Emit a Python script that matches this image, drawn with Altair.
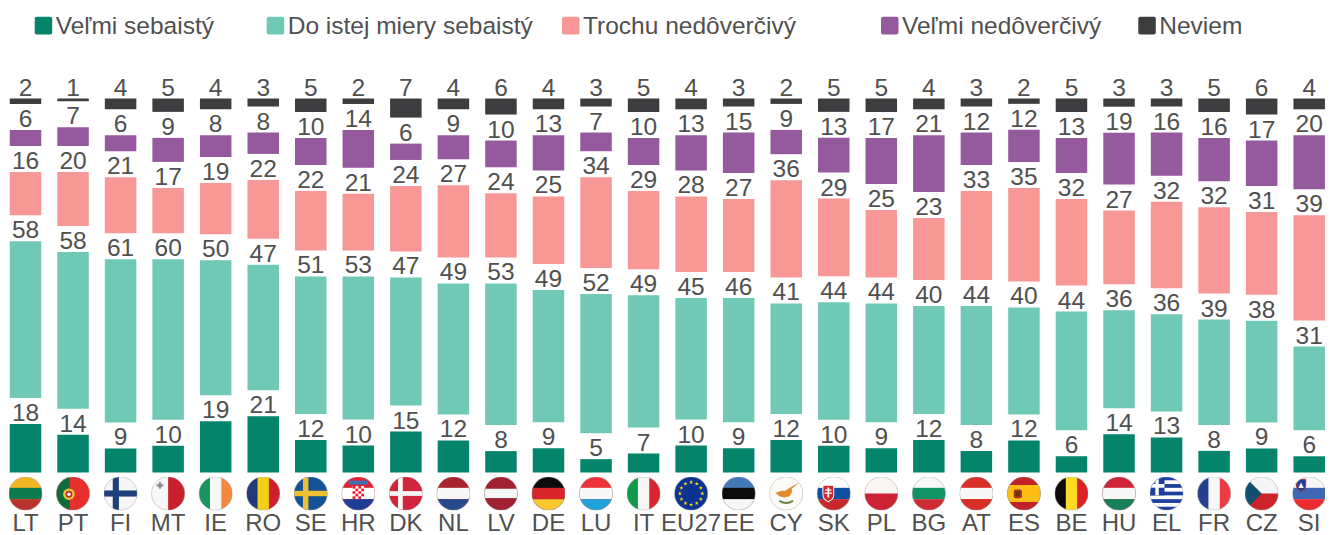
import base64, math
import altair as alt
import pandas as pd

countries = ["LT","PT","FI","MT","IE","RO","SE","HR","DK","NL","LV","DE","LU","IT","EU27","EE","CY","SK","PL","BG","AT","ES","BE","HU","EL","FR","CZ","SI"]
very_confident = [18,14,9,10,19,21,12,10,15,12,8,9,5,7,10,9,12,10,9,12,8,12,6,14,13,8,9,6]
fairly_confident = [58,58,61,60,50,47,51,53,47,49,53,49,52,49,45,46,41,44,44,40,44,40,44,36,36,39,38,31]
slightly_distrust = [16,20,21,17,19,22,22,21,24,27,24,25,34,29,28,27,36,29,25,23,33,35,32,27,32,32,31,39]
very_distrust = [6,7,6,9,8,8,10,14,6,9,10,13,7,10,13,15,9,13,17,21,12,12,13,19,16,16,17,20]
dont_know = [2,1,4,5,4,3,5,2,7,4,6,4,3,5,4,3,2,5,5,4,3,2,5,3,3,5,6,4]

series_names = ["Veľmi sebaistý","Do istej miery sebaistý","Trochu nedôverčivý","Veľmi nedôverčivý","Neviem"]
series_values = [very_confident, fairly_confident, slightly_distrust, very_distrust, dont_know]
series_colors = ["#04846b","#6fc9b6","#f79896","#955a9d","#3d3d3f"]
legend_square_x = [34.7, 266.7, 562, 881, 1138.3]
TEXT = "#505050"
FONT = "Liberation Sans"


def pos(p):
    """Page pixel to chart pixel: the page has an 8px margin."""
    return p - 8


# the gap that holds each value label, in percentage units of the y scale
PX_PER_UNIT = 2.7
GAP = 26 / PX_PER_UNIT


def tri_h(a, b, c, t=33.3):
    return f'<rect width="100" height="100" fill="{a}"/><rect y="{t}" width="100" height="{100-2*t}" fill="{b}"/><rect y="{100-t}" width="100" height="{t}" fill="{c}"/>'


def tri_v(a, b, c, l=33.3):
    return f'<rect width="100" height="100" fill="{b}"/><rect width="{l}" height="100" fill="{a}"/><rect x="{100-l}" width="{l}" height="100" fill="{c}"/>'


def cross(bg, fg, hy, hh, vx, vw):
    return f'<rect width="100" height="100" fill="{bg}"/><rect y="{hy}" width="100" height="{hh}" fill="{fg}"/><rect x="{vx}" width="{vw}" height="100" fill="{fg}"/>'


def star_ring():
    out = '<rect width="100" height="100" fill="#0c3391"/>'
    for k in range(12):
        a = math.radians(30 * k)
        cx, cy = 50 + 33 * math.sin(a), 50 - 33 * math.cos(a)
        pts = " ".join(
            f"{cx + (6.5 if j % 2 == 0 else 2.6) * math.sin(math.radians(36*j)):.1f},{cy - (6.5 if j % 2 == 0 else 2.6) * math.cos(math.radians(36*j)):.1f}"
            for j in range(10))
        out += f'<polygon points="{pts}" fill="#f7d51d"/>'
    return out


def greece():
    out = '<rect width="100" height="100" fill="#fff"/>'
    for i in range(0, 9, 2):
        out += f'<rect y="{i*100/9:.1f}" width="100" height="{100/9:.1f}" fill="#1f3f9f"/>'
    out += '<rect width="44" height="55.5" fill="#1f3f9f"/><rect y="22" width="44" height="11" fill="#fff"/><rect x="17" width="10" height="55.5" fill="#fff"/>'
    return out


def croatia():
    out = tri_h("#e3202f", "#fff", "#1f3c96")
    out += '<rect x="22" y="12" width="56" height="12" fill="#3f6fb5"/><rect x="33" y="28" width="34" height="38" fill="#fff"/>'
    for r in range(5):
        for c in range(4):
            if (r + c) % 2 == 0:
                out += f'<rect x="{33+c*8.5}" y="{28+r*7.6}" width="8.5" height="7.6" fill="#e3202f"/>'
    return out


def spain():
    return tri_h("#c12127", "#fcbd15", "#c12127", 25) + '<rect x="20" y="38" width="24" height="26" rx="6" fill="#a8311f"/><rect x="26" y="44" width="12" height="14" fill="#5b3a12"/>'


def portugal():
    return ('<rect width="100" height="100" fill="#e5302e"/><rect width="40" height="100" fill="#0f6b3a"/>'
            '<circle cx="38" cy="52" r="17" fill="#e9c53a"/><circle cx="38" cy="52" r="10" fill="#c2282b"/><circle cx="38" cy="52" r="5" fill="#fff"/>')


def malta():
    return ('<rect width="100" height="100" fill="#f7f7f7"/><rect x="50" width="50" height="100" fill="#c9202e"/>'
            '<rect x="20" y="20" width="12" height="12" fill="#a09a9a"/><rect x="15" y="24" width="22" height="4" fill="#8c8686"/><rect x="24" y="15" width="4" height="22" fill="#8c8686"/>')


def cyprus():
    return ('<rect width="100" height="100" fill="#fbfbf8"/>'
            '<polygon points="18,48 36,42 46,42 62,32 88,18 66,36 68,44 60,58 44,62 30,58" fill="#e28b2c"/>'
            '<path d="M30 72 Q50 84 70 72" stroke="#68804a" stroke-width="6" fill="none"/>')


def slovakia():
    return (tri_h("#fff", "#0f4fa0", "#c8282b") +
            '<path d="M18 26 H50 V54 Q50 68 34 74 Q18 68 18 54 Z" fill="#d8222c" stroke="#fff" stroke-width="3"/>'
            '<rect x="31.5" y="32" width="5" height="30" fill="#fff"/><rect x="25" y="38" width="18" height="4" fill="#fff"/><rect x="23" y="47" width="22" height="4" fill="#fff"/>')


def czech():
    return ('<rect width="100" height="50" fill="#f5f5f5"/><rect y="50" width="100" height="50" fill="#cc2229"/>'
            '<polygon points="0,0 50,50 0,100" fill="#11506f"/>')


def slovenia():
    return (tri_h("#f7f7f7", "#3e66b2", "#ec2c30") +
            '<path d="M12 8 H40 V28 Q38 40 26 44 Q14 40 12 28 Z" fill="#22408f" stroke="#d8222c" stroke-width="2"/>'
            '<polygon points="26,18 34,34 18,34" fill="#fff"/>')


flag_art = {
    "LT": tri_h("#f4b522", "#0f7a4e", "#b8332e"), "PT": portugal(),
    "FI": cross("#f6f6f6", "#1f3f7a", 41, 18, 27, 18), "MT": malta(),
    "IE": tri_v("#1a9463", "#f7f7f7", "#f5873f"), "RO": tri_v("#23397e", "#f4cf13", "#cf2030"),
    "SE": cross("#135296", "#eec02e", 42, 16, 27, 16), "HR": croatia(),
    "DK": cross("#d1253b", "#f5f5f5", 43, 14, 27, 14), "NL": tri_h("#a8232d", "#f7f7f7", "#274a8c"),
    "LV": tri_h("#a0212f", "#f7f7f7", "#a0212f", 36), "DE": tri_h("#0b0b0b", "#d9262c", "#fcc72e"),
    "LU": tri_h("#ef3239", "#f7f7f7", "#1fa3d8"), "IT": tri_v("#0f9a4a", "#f7f7f7", "#d9252f"),
    "EU27": star_ring(), "EE": tri_h("#4478b8", "#0b0b0b", "#f7f7f7"),
    "CY": cyprus(), "SK": slovakia(),
    "PL": tri_h("#fbf6f4", "#fbf6f4", "#cc2233", 50), "BG": tri_h("#f7f7f7", "#119465", "#cc2c31"),
    "AT": tri_h("#d82f27", "#f7f7f7", "#d82f27"), "ES": spain(),
    "BE": tri_v("#0b0b0b", "#fddb24", "#dd2027"), "HU": tri_h("#cf2637", "#f7f7f7", "#16805a"),
    "EL": greece(), "FR": tri_v("#24408e", "#f7f7f7", "#ee3a43"),
    "CZ": czech(), "SI": slovenia(),
}


def flag_url(code):
    svg = ('<svg xmlns="http://www.w3.org/2000/svg" viewBox="0 0 100 100"><defs><clipPath id="c"><circle cx="50" cy="50" r="49"/></clipPath></defs>'
           f'<g clip-path="url(#c)">{flag_art[code]}</g><circle cx="50" cy="50" r="49" fill="none" stroke="#aaa" stroke-width="1.5"/></svg>')
    return "data:image/svg+xml;base64," + base64.b64encode(svg.encode()).decode()


rows = []
for i, c in enumerate(countries):
    total = sum(v[i] for v in series_values)
    cum = 0.0
    for k, name in enumerate(series_names):
        v = series_values[k][i]
        share = v * 100 / total
        rows.append({"pos": i, "country": c, "series": name, "value": v,
                     "y0": cum + k * GAP, "y1": cum + share + k * GAP})
        cum += share
df = pd.DataFrame(rows)
flags = pd.DataFrame({"pos": list(range(len(countries))), "country": countries,
                      "flag": [flag_url(c) for c in countries]})

x = alt.X("pos:Q", axis=None,
          scale=alt.Scale(domain=[0, 27], range=[pos(25.5), pos(1309.2)], nice=False, zero=False, padding=0))
y_scale = alt.Scale(domain=[0, 100 + 4 * GAP], range=[pos(472.5), pos(98.5)], nice=False, zero=False, padding=0)

bars = alt.Chart(df).mark_bar(size=31.5).encode(
    x=x,
    y=alt.Y("y0:Q", scale=y_scale, axis=None),
    y2="y1:Q",
    color=alt.Color("series:N", legend=None,
                    scale=alt.Scale(domain=series_names, range=series_colors)),
)
values = alt.Chart(df).mark_text(font=FONT, fontSize=24.5, color=TEXT, baseline="alphabetic", dy=-3).encode(
    x=x,
    y=alt.Y("y1:Q", scale=y_scale, axis=None),
    text="value:Q",
)
flag_marks = alt.Chart(flags).mark_image(width=34, height=34).encode(
    x=x, y=alt.value(pos(493.5)), url=alt.Url("flag:N"),
)
codes = alt.Chart(flags).mark_text(font=FONT, fontSize=24, color=TEXT, baseline="alphabetic").encode(
    x=x, y=alt.value(pos(531)), text="country:N",
)

layers = [bars, values, flag_marks, codes]
for name, color, sx in zip(series_names, series_colors, legend_square_x):
    item = pd.DataFrame({"label": [name]})
    layers.append(alt.Chart(item).mark_rect(color=color, cornerRadius=2).encode(
        x=alt.value(pos(sx)), x2=alt.value(pos(sx + 17.5)), y=alt.value(pos(16.8)), y2=alt.value(pos(34.5))))
    layers.append(alt.Chart(item).mark_text(font=FONT, fontSize=24.5, color=TEXT, align="left", baseline="alphabetic").encode(
        x=alt.value(pos(sx + 21)), y=alt.value(pos(33.5)), text="label:N"))

chart = alt.layer(*layers).properties(
    width=1317, height=528, padding=0,
    autosize=alt.AutoSizeParams(type="none"),
).configure_view(stroke=None)

chart.save("out.html", embed_options={"renderer": "svg", "actions": False})
